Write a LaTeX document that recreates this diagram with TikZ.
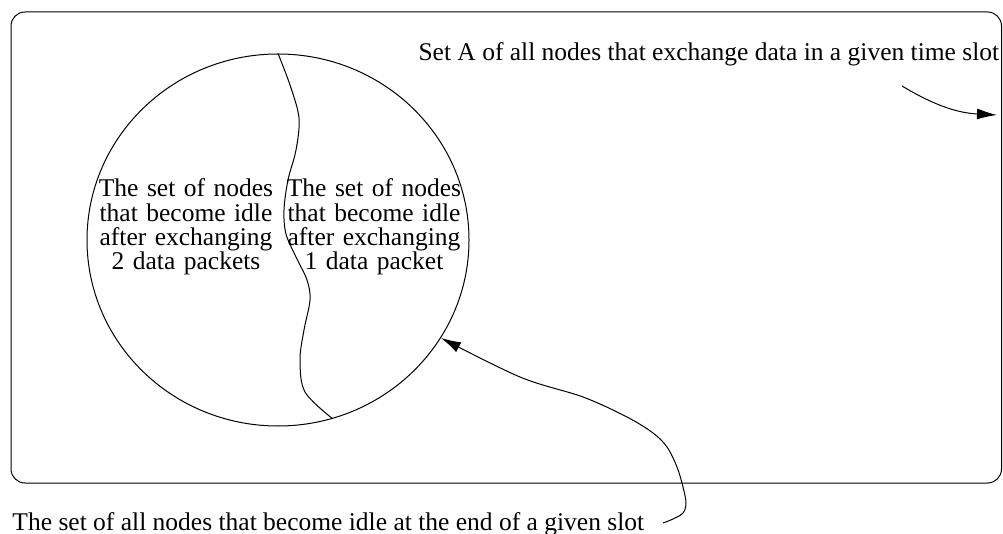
\documentclass[tikz,border=0pt]{standalone}
\usepackage{fontspec}
\setmainfont{Liberation Serif}
\usetikzlibrary{arrows.meta,shapes.geometric}
\begin{document}
\begin{tikzpicture}[x=1pt,y=-1pt,line width=1pt,
  lbl/.style={inner sep=0pt,font=\fontsize{25.5}{24.3}\selectfont},
  block/.style={lbl,text width=200pt,align=center,anchor=base},
  tip/.style={-{Latex[length=20pt,width=11pt]}}]
\useasboundingbox (0,0) rectangle (1003,534);

% outer set A
\draw[rounded corners=14pt] (11,12) rectangle (1001.5,483);

% set of nodes that become idle
\node[draw,ellipse,minimum width=382pt,minimum height=372pt,inner sep=0pt] (circ) at (278,240) {};

% divider between the two subsets
\draw plot[smooth,tension=0.55] coordinates {(circ.north) (290,85) (299,118) (296,150)
  (288,180) (284,210) (286,234) (296,257) (307,280) (310,300) (304,330) (300,360)
  (305,392) (circ.-73)};

% texts
\node[block] (two) at (186,197) {The set of nodes\\that become idle\\after exchanging\\2 data packets};
\node[block] (one) at (374,197) {The set of nodes\\that become idle\\after exchanging\\1 data packet};
\node[lbl,anchor=base west] (setA) at (418,61) {Set A of all nodes that exchange data in a given time slot};
\node[lbl,anchor=base west] (idle) at (12,530) {The set of all nodes that become idle at the end of a given slot};

% pointers
\coordinate (a0) at (902,86);
\coordinate (a1) at (997,115);
\draw[tip] (a0) to[bend right=14] (a1);

\coordinate (s) at (663,523);
\draw[tip] plot[smooth,tension=0.55] coordinates {(s) (673,519) (683,513) (686,503)
  (683,487) (677,467) (667,447) (653,433) (627,417) (583,397) (520,377) (circ.-31)};
\end{tikzpicture}
\end{document}
